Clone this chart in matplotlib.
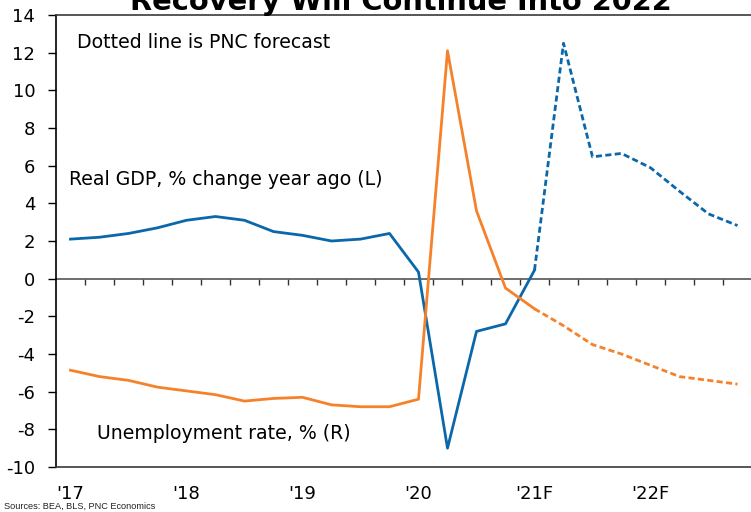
import numpy as np
import matplotlib.pyplot as plt

plt.rcParams['axes.unicode_minus'] = False

# quarterly series, 2017Q1 - 2022Q4
quarters = ['2017Q1', '2017Q2', '2017Q3', '2017Q4',
            '2018Q1', '2018Q2', '2018Q3', '2018Q4',
            '2019Q1', '2019Q2', '2019Q3', '2019Q4',
            '2020Q1', '2020Q2', '2020Q3', '2020Q4',
            '2021Q1', '2021Q2', '2021Q3', '2021Q4',
            '2022Q1', '2022Q2', '2022Q3', '2022Q4']

# real GDP, % change year ago (left axis)
gdp = [2.1, 2.2, 2.4, 2.7,
       3.1, 3.3, 3.1, 2.5,
       2.3, 2.0, 2.1, 2.4,
       0.35, -9.0, -2.8, -2.4,
       0.45, 12.5, 6.47, 6.65,
       5.89, 4.64, 3.44, 2.82]

# unemployment rate, % (right axis)
unemp = [4.57, 4.4, 4.3, 4.12,
         4.02, 3.92, 3.75, 3.82,
         3.85, 3.65, 3.6, 3.6,
         3.8, 13.05, 8.8, 6.75,
         6.2, 5.75, 5.25, 5.0,
         4.7, 4.4, 4.3, 4.2]

first_forecast = quarters.index('2021Q1')

year_ticks = ['2017Q1', '2018Q1', '2019Q1', '2020Q1', '2021Q1', '2022Q1']
year_labels = ["'17", "'18", "'19", "'20", "'21F", "'22F"]

blue = '#0a68aa'
orange = '#f5822a'
dashes = (0, (2.2, 1.2))

x = np.arange(len(quarters))

fig = plt.figure(figsize=(7.51, 5.12), dpi=100)
ax = fig.add_axes([56 / 751, 45 / 512, 696 / 751, 452 / 512])
ax2 = ax.twinx()

# GDP: actual solid, forecast dashed
ax.plot(x[:first_forecast + 1], gdp[:first_forecast + 1], color=blue, lw=2.0, zorder=3)
ax.plot(x[first_forecast:], gdp[first_forecast:], color=blue, lw=2.0, ls=dashes, zorder=3)

# unemployment on the right scale
ax2.plot(x[:first_forecast + 1], unemp[:first_forecast + 1], color=orange, lw=2.0)
ax2.plot(x[first_forecast:], unemp[first_forecast:], color=orange, lw=2.0, ls=dashes)

ax.set_xlim(-0.5, len(quarters) - 0.5)
ax.set_ylim(-10, 14)
ax.set_yticks(np.arange(-10, 15, 2))
ax2.set_ylim(2, 14)
ax2.set_yticks([])
for s in ['right', 'top', 'left', 'bottom']:
    ax2.spines[s].set_visible(False)

for s in ['top', 'bottom']:
    ax.spines[s].set_color('#3a3a3a')
    ax.spines[s].set_linewidth(1.2)
ax.spines['left'].set_color('black')
ax.spines['left'].set_linewidth(1.2)
ax.spines['right'].set_visible(False)

ax.set_xticks([quarters.index(q) for q in year_ticks])
ax.set_xticklabels(year_labels)
ax.tick_params(axis='x', length=0, pad=13, labelsize=13)
ax.tick_params(axis='y', length=6, width=1.0, direction='out', labelsize=13, pad=9)

# zero line with quarter ticks
zero = ax.secondary_xaxis(10 / 24)
zero.spines['bottom'].set_color('#555555')
zero.spines['bottom'].set_linewidth(1.2)
zero.set_xticks(np.arange(0.5, len(quarters) - 1, 1.0))
zero.set_xticklabels([])
zero.tick_params(axis='x', length=4, width=1.0, direction='out', color='#333333')

ax.text(0.22, 12.55, 'Dotted line is PNC forecast', fontsize=13.6, va='center')
ax.text(-0.05, 5.27, 'Real GDP, % change year ago (L)', fontsize=13.6, va='center')
ax.text(0.9, -8.2, 'Unemployment rate, % (R)', fontsize=13.6, va='center')

fig.text(401 / 751, 1 - 10.5 / 512, 'Recovery Will Continue Into 2022',
         fontsize=20.8, fontweight='bold', ha='center', va='baseline')
fig.text(4 / 751, 1 / 512, 'Sources: BEA, BLS, PNC Economics',
         fontsize=6.6, family='Liberation Sans', va='bottom', color='#222222')

fig.savefig('out.png', dpi=100)
